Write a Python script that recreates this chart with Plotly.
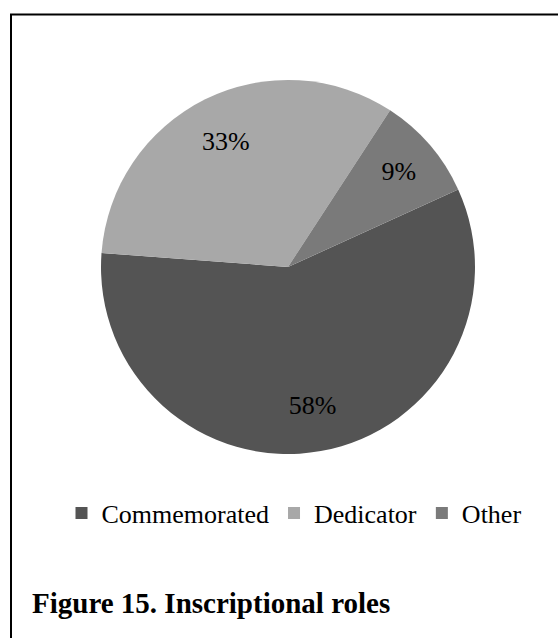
import plotly.graph_objects as go

labels = ["Commemorated", "Dedicator", "Other"]
values = [58, 33, 9]
colors = ["#545454", "#a8a8a8", "#7a7a7a"]
label_text = [f"{v}%" for v in values]
title_text = "<b>Figure 15. Inscriptional roles</b>"

W, H = 558, 638
cx, cy, R = 288, 267, 187

dom_x = [(cx - R) / W, (cx + R) / W]
dom_y = [(H - (cy + R)) / H, (H - (cy - R)) / H]

serif = "Liberation Serif, Times New Roman, serif"

fig = go.Figure()
fig.add_trace(go.Pie(
    labels=labels, values=values, sort=False, direction="clockwise",
    rotation=65.5, marker=dict(colors=colors, line=dict(width=0)),
    textinfo="none", domain=dict(x=dom_x, y=dom_y), hoverinfo="skip",
    showlegend=True,
))
# transparent ring carrying the percentage labels
fig.add_trace(go.Pie(
    labels=labels, values=values, sort=False, direction="clockwise",
    rotation=65.5, hole=0.5,
    marker=dict(colors=["rgba(0,0,0,0)"] * 3, line=dict(width=0)),
    text=label_text, textinfo="text", textposition="inside",
    insidetextorientation="horizontal",
    textfont=dict(family=serif, size=26, color="#000000"),
    domain=dict(x=dom_x, y=dom_y), hoverinfo="skip", showlegend=False,
))

fig.add_shape(type="rect", xref="paper", yref="paper",
              x0=11 / W, x1=1.05, y0=-0.05, y1=1 - 14.5 / H,
              line=dict(color="#000000", width=2))

fig.add_annotation(text=title_text, xref="paper", yref="paper",
                   x=30 / W, y=(H - 603) / H, xanchor="left", yanchor="middle",
                   showarrow=False, font=dict(family=serif, size=29, color="#000000"))

fig.update_layout(
    width=W, height=H, margin=dict(l=0, r=0, t=0, b=0),
    paper_bgcolor="white", plot_bgcolor="white",
    font=dict(family=serif, color="#000000"),
    showlegend=True,
    legend=dict(orientation="h", x=294 / W, y=(H - 513) / H,
                xanchor="center", yanchor="middle",
                font=dict(family=serif, size=26, color="#000000"),
                itemclick=False, itemdoubleclick=False),
)

fig.write_html("out.html", config={"displayModeBar": False},
               post_script="document.body.style.margin='0';")
